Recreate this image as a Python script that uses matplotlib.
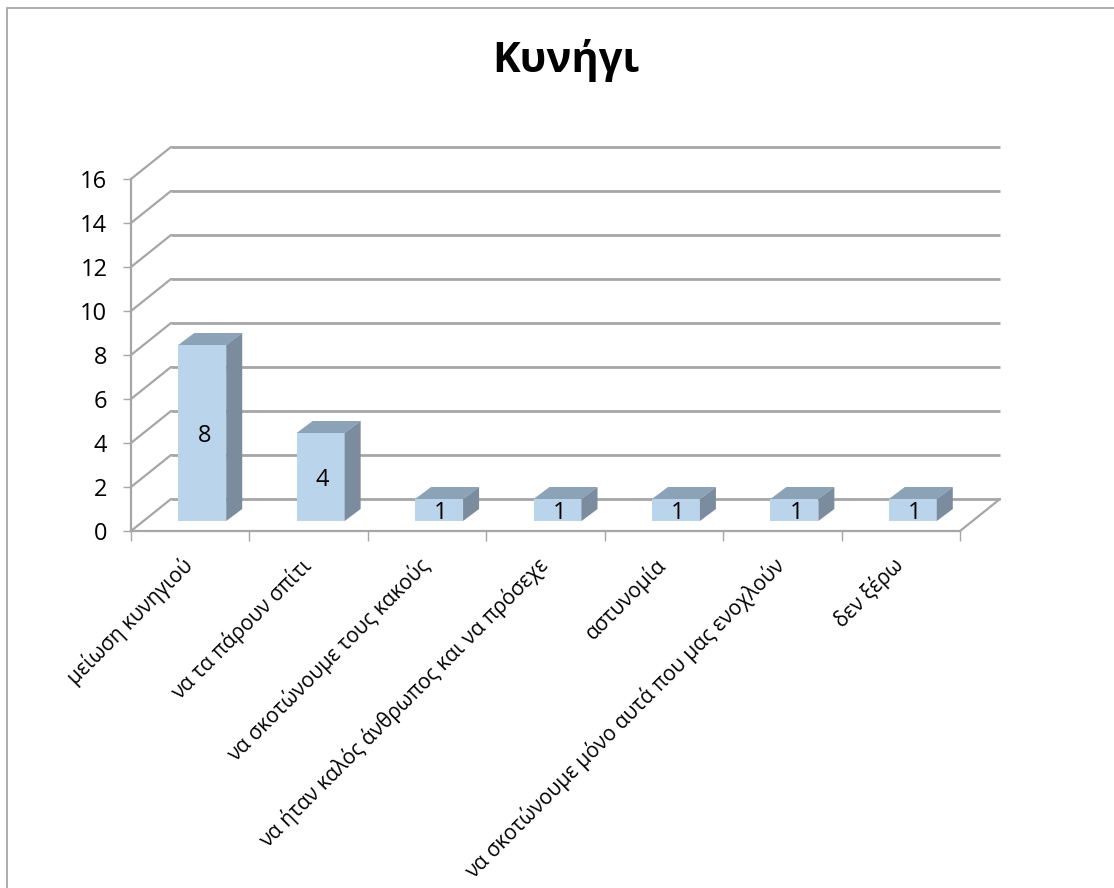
import matplotlib
matplotlib.use("Agg")
import matplotlib.pyplot as plt
from matplotlib.patches import Polygon, Rectangle
from matplotlib.transforms import ScaledTranslation

categories = ["μείωση κυνηγιού", "να τα πάρουν σπίτι", "να σκοτώνουμε τους κακούς",
              "να ήταν καλός άνθρωπος και να πρόσεχε", "αστυνομία",
              "να σκοτώνουμε μόνο αυτά που μας ενοχλούν", "δεν ξέρω"]
values = [8, 4, 1, 1, 1, 1, 1]
yticks = [0, 2, 4, 6, 8, 10, 12, 14, 16]
title = "Κυνήγι"

W, H, DPI = 1114, 888, 100
FONT = ["Open Sans", "Noto Sans", "DejaVu Sans"]
plt.rcParams["font.family"] = FONT
GRID = "#a6a6a6"
FRONT, TOP, SIDE = "#bad4ec", "#8ca2b7", "#7a8c9d"

fig = plt.figure(figsize=(W / DPI, H / DPI), dpi=DPI)
L, R, T, B = 131, 960, 179, 531
ax = fig.add_axes([L / W, 1 - B / H, (R - L) / W, (B - T) / H])
ax.set_xlim(0, len(categories))
ax.set_ylim(0, 16)
ax.patch.set_visible(False)
for s in ["top", "right"]:
    ax.spines[s].set_visible(False)
for s in ["left", "bottom"]:
    ax.spines[s].set_color(GRID)
    ax.spines[s].set_linewidth(1.6)


def shifted(dx, dy):
    """data transform moved by a pixel offset (dy positive = upwards)"""
    return ax.transData + ScaledTranslation(dx / DPI, dy / DPI, fig.dpi_scale_trans)


# depth of the chart floor and walls, depth of the bars, in pixels
WD = (40, 32)
BO = (12, 10)
BD = (16, 12)
n = len(categories)
arrow = dict(arrowstyle="-", color=GRID, lw=1.6, shrinkA=0, shrinkB=0)
for v in yticks:
    ax.plot([0, n], [v, v], transform=shifted(*WD), color=GRID, lw=2, clip_on=False,
            solid_capstyle="butt", zorder=1)
    ax.annotate("", xy=(0, v), xycoords="data", xytext=WD, textcoords="offset pixels",
                arrowprops=arrow, zorder=1)
ax.annotate("", xy=(n, 0), xycoords="data", xytext=WD, textcoords="offset pixels",
            arrowprops=arrow, zorder=1)

bw = 48 / ((R - L) / n)
tr_front = shifted(*BO)
tr_back = shifted(BO[0] + BD[0], BO[1] + BD[1])
tr_label = shifted(BO[0] + 2, BO[1] - 3)
for i, v in enumerate(values):
    x0, x1 = i + 0.5 - bw / 2, i + 0.5 + bw / 2
    ax.add_patch(Rectangle((x0, 0), bw, v, transform=tr_front, fc=FRONT, ec="none", zorder=3, clip_on=False))
    f = tr_front.transform
    b = tr_back.transform
    top = [f((x0, v)), f((x1, v)), b((x1, v)), b((x0, v))]
    side = [f((x1, 0)), f((x1, v)), b((x1, v)), b((x1, 0))]
    ax.add_patch(Polygon(top, closed=True, transform=None, fc=TOP, ec="none", zorder=3, clip_on=False))
    ax.add_patch(Polygon(side, closed=True, transform=None, fc=SIDE, ec="none", zorder=3, clip_on=False))
    ax.text(i + 0.5, v / 2, str(v), transform=tr_label, ha="center", va="center",
            fontsize=17, color="black", zorder=4)

ax.set_yticks(yticks)
ax.set_yticklabels([str(v) for v in yticks], fontsize=17, color="black")
ax.tick_params(axis="y", length=6, width=1, color=GRID, pad=11)
ax.set_xticks(range(n + 1))
ax.set_xticklabels([""] * (n + 1))
ax.tick_params(axis="x", length=7, width=1, color=GRID)

for i, c in enumerate(categories):
    ax.annotate(c, xy=(i + 0.5, 0), xycoords="data", xytext=(-9, -23), textcoords="offset pixels",
                rotation=45, rotation_mode="anchor", ha="right", va="top", fontsize=15,
                color="black", annotation_clip=False)

fig.text(566 / W, 1 - 60 / H, title, ha="center", va="center", fontsize=30, fontweight="bold", color="black")

# chart-area border
fig.add_artist(Rectangle((6.5 / W, -0.01), 1.1, 1 - 7.5 / H + 0.01, transform=fig.transFigure,
                         fill=False, ec="#a6a6a6", lw=1.3))
fig.savefig("out.png", dpi=DPI)
